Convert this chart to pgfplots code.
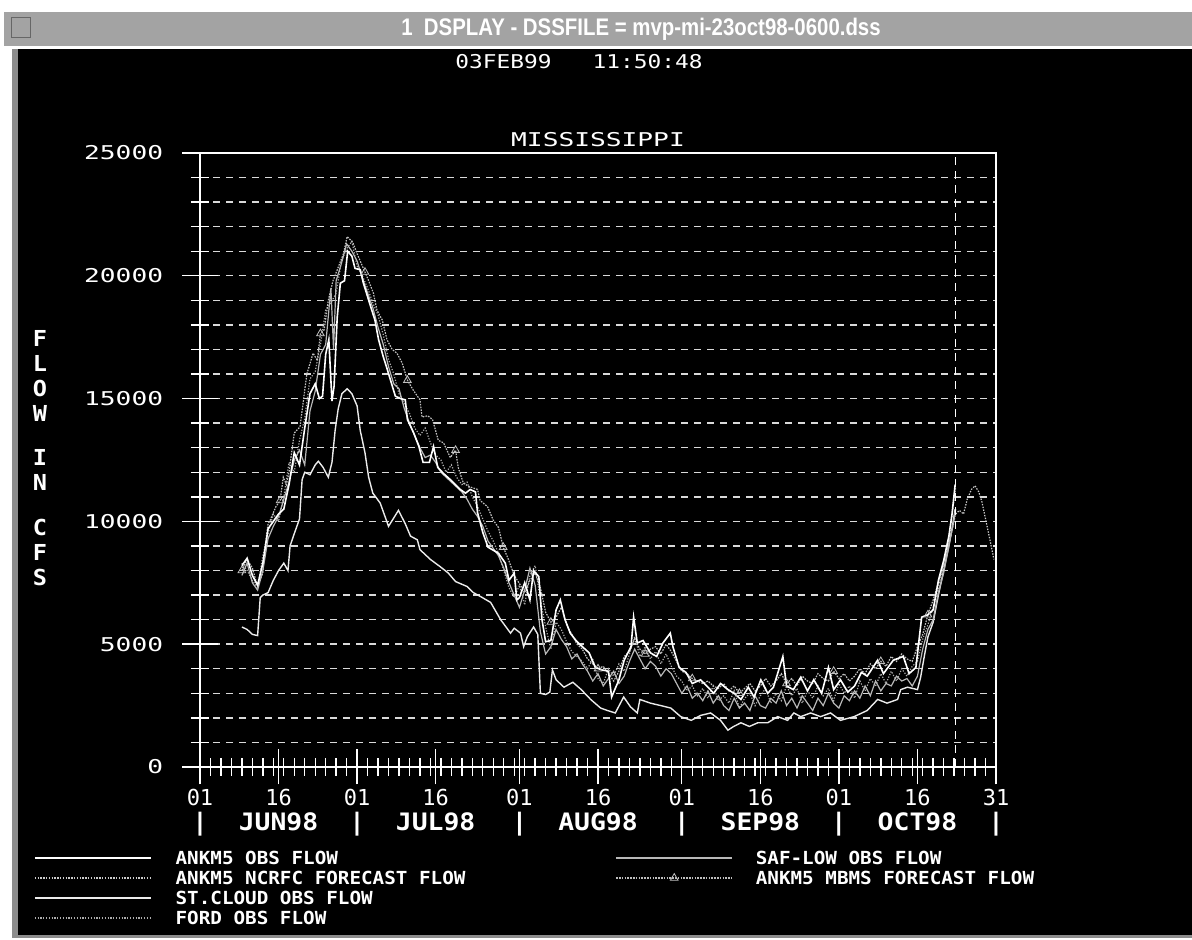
\documentclass[border=0pt]{standalone}
\usepackage{fontspec}
\usepackage{pgfplots}
\pgfplotsset{compat=1.18}
\setmainfont{DejaVu Sans Mono}
\newfontfamily\tickfont{DejaVu Sans Mono}[FakeStretch=1.38]
\newfontfamily\datefont{DejaVu Sans Mono}[FakeStretch=1.2]
\newfontfamily\xfont{DejaVu Sans Mono}
\newfontfamily\monfont{DejaVu Sans Mono}[FakeStretch=1.1]
\newfontfamily\legfont{DejaVu Sans Mono}[FakeStretch=1.07]
\newfontfamily\titlefont{Liberation Sans}[FakeStretch=0.85]
\pgfplotsset{
  ankobs/.style={white, line width=0.8pt},
  saflow/.style={white!72!black, line width=0.6pt},
  ncrfc/.style={white!80!black, line width=0.6pt, dash pattern=on 0.7pt off 0.7pt},
  stcloud/.style={white!92!black, line width=0.7pt},
  ford/.style={white!68!black, line width=0.6pt, dash pattern=on 0.6pt off 0.8pt},
  mbms/.style={white!75!black, line width=0.6pt, dash pattern=on 0.8pt off 0.6pt, mark=triangle, mark size=2.2pt, mark repeat=9, mark options={solid, white!75!black, line width=0.4pt}},
}
\begin{document}
\begin{tikzpicture}
\useasboundingbox (0,0) rectangle (596pt,470pt);
\fill[white] (0,0) rectangle (596pt,470pt);
\fill[black!36] (2pt,447pt) rectangle (596pt,464pt);
\draw[black!60, line width=0.5pt] (5.5pt,451pt) rectangle (15pt,461pt);
\fill[black] (9pt,2.5pt) rectangle (596pt,445.5pt);
\fill[black!45] (6pt,2.5pt) rectangle (9pt,445.5pt);
\fill[black!45] (6pt,1pt) rectangle (596pt,2.5pt);
\node[text=white, font=\titlefont\bfseries\fontsize{12}{14}\selectfont, inner sep=0pt] at (320.5pt,455.5pt) {1\ \ DSPLAY - DSSFILE = mvp-mi-23oct98-0600.dss};
\node[text=white, font=\datefont\fontsize{9.5}{11}\selectfont, inner sep=0pt] at (289.5pt,439pt) {03FEB99\ \ \ 11:50:48};
\node[text=white, font=\legfont\bfseries\fontsize{11}{12.5}\selectfont, align=center, inner sep=0pt] at (20pt,282pt) {F\\L\\O\\W};
\node[text=white, font=\legfont\bfseries\fontsize{11}{12.5}\selectfont, align=center, inner sep=0pt] at (20pt,235pt) {I\\N};
\node[text=white, font=\legfont\bfseries\fontsize{11}{12.5}\selectfont, align=center, inner sep=0pt] at (20pt,193.5pt) {C\\F\\S};
\begin{axis}[
  at={(100pt,86.5pt)}, anchor=south west,
  scale only axis, width=398pt, height=307pt,
  xmin=0, xmax=152, ymin=0, ymax=25000,
  axis background/.style={fill=black},
  axis line style={white, line width=0.7pt},
  tick style={white, line width=0.7pt},
  tick align=center, tick pos=left,
  major tick length=17.5pt, minor tick length=9pt,
  scaled y ticks=false,
  ytick={0,5000,10000,15000,20000,25000},
  yticklabels={0,5000,10000,15000,20000,25000},
  minor y tick num=4,
  ymajorgrids, yminorgrids,
  major grid style={white!85!black, dash pattern=on 3.5pt off 3pt, line width=0.7pt},
  minor grid style={white!85!black, dash pattern=on 3.5pt off 3pt, line width=0.7pt},
  xtick={0,15,30,45,61,76,92,107,122,137,152},
  minor xtick={0,2,...,152},
  xticklabels={{01\\{\monfont\bfseries\fontsize{12}{13}\selectfont |}},{16\\{\monfont\bfseries\fontsize{12}{13}\selectfont JUN98}},{01\\{\monfont\bfseries\fontsize{12}{13}\selectfont |}},{16\\{\monfont\bfseries\fontsize{12}{13}\selectfont JUL98}},{01\\{\monfont\bfseries\fontsize{12}{13}\selectfont |}},{16\\{\monfont\bfseries\fontsize{12}{13}\selectfont AUG98}},{01\\{\monfont\bfseries\fontsize{12}{13}\selectfont |}},{16\\{\monfont\bfseries\fontsize{12}{13}\selectfont SEP98}},{01\\{\monfont\bfseries\fontsize{12}{13}\selectfont |}},{16\\{\monfont\bfseries\fontsize{12}{13}\selectfont OCT98}},{31\\{\monfont\bfseries\fontsize{12}{13}\selectfont |}}},
  yticklabel style={font=\tickfont\fontsize{9.5}{11}\selectfont, text=white, anchor=east, inner sep=0pt, xshift=-9.5pt},
  xticklabel style={font=\xfont\fontsize{11}{12.5}\selectfont, text=white, anchor=north, inner sep=0pt, align=center, yshift=-2pt},
  title={MISSISSIPPI},
  title style={font=\tickfont\fontsize{9.5}{11}\selectfont, text=white, at={(0.5,1)}, anchor=south, inner sep=0pt, yshift=-3pt},
  legend columns=2,
  legend cell align=left,
  legend image code/.code={\draw[#1, mark repeat=2, mark phase=2] plot coordinates {(0pt,0pt) (29pt,0pt) (58pt,0pt)};},
  legend style={draw=none, fill=none, at={(-0.2085,-0.1368)}, anchor=north west,
    font=\legfont\bfseries\fontsize{9}{10}\selectfont, text=white,
    inner sep=0pt, outer sep=0pt, row sep=3pt, column sep=0pt,
    nodes={inner sep=0pt, text height=6.6pt, text depth=0.4pt, anchor=west}},
]
% ST.CLOUD OBS FLOW
\addplot[stcloud, forget plot] coordinates {(8,5700)(9,5600)(10,5400)(11,5350)(11.5,6900)(12,7000)(13,7100)(14,7600)(15,8000)(16,8300)(16.8,8000)(17.2,9000)(18,9500)(19,10100)(19.5,11700)(20,12000)(21,11900)(22,12300)(22.6,12450)(23.5,12200)(24.5,11800)(25.2,12400)(25.8,13700)(26.4,14600)(27.1,15200)(28.1,15400)(29,15200)(30,14700)(30.6,13700)(31.5,12800)(32.2,11800)(33,11150)(34.4,10750)(36,9800)(37.9,10450)(39.2,9900)(40.2,9400)(41.5,9250)(42,8850)(44,8450)(45.9,8150)(47.4,7900)(48.8,7550)(51,7350)(52.2,7100)(53.9,6900)(55.5,6700)(57.4,6000)(59.3,5450)(60,5650)(61.2,5450)(61.8,4900)(62.5,5300)(63.7,5700)(64.5,5400)(65,3000)(66,2950)(66.8,3050)(67.3,3950)(68,3550)(69.5,3250)(71.2,3450)(72.8,3150)(74.6,2750)(76.5,2400)(77.8,2300)(79.3,2200)(80.9,2850)(82.2,2450)(83.5,2200)(84,2750)(86,2600)(88,2500)(89.9,2400)(91.8,2050)(93.8,1900)(95.6,2100)(97.5,2200)(99.4,1900)(100.8,1500)(101.9,1650)(103.3,1800)(104.9,1650)(106.5,1800)(108.4,1800)(110.3,2050)(112.2,1900)(113.4,2200)(114.7,2050)(116.6,2200)(118.5,2050)(120.4,2200)(122.3,1900)(124.9,2050)(127.4,2300)(129.4,2750)(131.2,2600)(133.2,2750)(133.8,3150)(135.1,3250)(137,3150)(137.6,3650)(138.3,4500)(139,5300)(140,5900)(141,7000)(142,8000)(143,9000)(143.6,9700)(144.2,10500)};
% FORD OBS FLOW
\addplot[ford, forget plot] coordinates {(8,8300)(9,8000)(10,7600)(11,7300)(12,8600)(13,9500)(14,10300)(15,10000)(16,11000)(17,12400)(18,12000)(19,13300)(20,14200)(21,15800)(22,16100)(23,17200)(24,18600)(25,18900)(26,19300)(27,20600)(28,21100)(29,21400)(30,20400)(31,20000)(32,19500)(33,18900)(34,18400)(35,17600)(36,16600)(37,16000)(38,15200)(39,14800)(40,14400)(41,13800)(42,13500)(43,13800)(44,13200)(45,12700)(46,12500)(47,12000)(48,12300)(49,11800)(50,11500)(51,11600)(52,11000)(53,10600)(54,10100)(55,9600)(56,9200)(57,8700)(58,8000)(59,7300)(60,6900)(61,7400)(62,6600)(63,7800)(64,8200)(65,6800)(66,5700)(67,4800)(68,5900)(69,5600)(70,5100)(71,4700)(72,4500)(73,4300)(74,4000)(75,4400)(76,3600)(77,3400)(78,4000)(79,3700)(80,4200)(81,3900)(82,4600)(83,5300)(84,4500)(85,4900)(86,4400)(87,4700)(88,4200)(89,4600)(90,4100)(91,3700)(92,3500)(93,3100)(94,3300)(95,2900)(96,3200)(97,2800)(98,3300)(99,2700)(100,2900)(101,2600)(102,3100)(103,2400)(104,2800)(105,3000)(106,2500)(107,2900)(108,3200)(109,2600)(110,3000)(111,2700)(112,3300)(113,2900)(114,3200)(115,2600)(116,3100)(117,2800)(118,3300)(119,2900)(120,3200)(121,2700)(122,3400)(123,3000)(124,3300)(125,2800)(126,3500)(127,3100)(128,3600)(129,3300)(130,3800)(131,3400)(132,3900)(133,3500)(134,4000)(135,3700)(136,4100)(137,4300)(138,5200)(139,5800)(140,6500)(141,7300)(142,8200)(143,9200)(143.7,10400)(144.3,11400)};
% SAF-LOW OBS FLOW
\addplot[saflow, forget plot] coordinates {(8,7800)(9,8300)(10,7500)(11,7200)(12,8000)(13,9300)(14,9800)(15,10200)(16,10900)(17,11600)(18,12500)(19,12900)(20,12300)(21,14500)(22,15300)(23,16800)(24,17200)(25,19500)(25.5,17000)(26,19800)(27,20500)(28,21300)(29,21000)(30,20600)(31,19900)(32,19300)(33,18700)(34,17900)(35,17200)(36,16300)(37,15600)(38,15400)(39,14600)(40,14000)(41,13500)(42,13000)(43,12600)(44,12700)(45,12400)(46,12000)(47,11800)(48,11600)(49,11400)(50,11200)(51,10900)(52,10500)(53,10200)(54,9800)(55,9200)(56,8900)(57,8600)(58,8100)(59,7500)(60,7000)(61,6500)(62,7200)(63,8100)(64,7400)(65,5500)(66,4600)(67,4900)(68,5600)(69,5200)(70,4900)(71,4400)(72,4600)(73,4200)(74,3900)(75,3500)(76,3800)(77,3300)(78,3600)(79,3900)(80,3400)(81,3700)(82,4300)(83,4800)(84,4400)(85,4000)(86,4300)(87,4100)(88,3700)(89,4000)(90,3800)(91,3400)(92,3000)(93,3300)(94,2800)(95,3000)(96,2700)(97,3100)(98,2600)(99,2900)(100,2500)(101,2300)(102,2800)(103,2400)(104,2600)(105,2300)(106,2900)(107,2500)(108,2400)(109,2800)(110,2600)(111,3100)(112,2500)(113,2800)(114,2400)(115,2900)(116,2600)(117,2300)(118,2800)(119,2500)(120,3000)(121,2600)(122,2400)(123,2900)(124,2700)(125,3100)(126,2800)(127,3300)(128,2900)(129,3500)(130,3100)(131,3400)(132,3300)(133,3700)(134,3500)(135,3600)(136,3300)(137,3700)(138,4800)(139,5600)(140,6000)(141,7100)(142,7900)(143,9000)(144,10100)(144.3,10500)};
% ANKM5 MBMS FORECAST FLOW
\addplot[mbms, forget plot] coordinates {(8,8000)(9,8450)(10,8100)(11,7350)(12,7900)(12.4,8950)(13,9900)(13.4,10050)(14.5,10600)(15.3,10850)(15.9,11800)(16.5,11500)(17,12000)(18,13600)(19.1,13850)(20.4,16000)(21.6,16850)(22.4,16550)(23,17650)(23.7,17800)(24.5,19000)(25.4,19800)(26.4,20350)(27.4,20900)(28.1,21600)(29.2,21350)(30,20900)(31.5,20150)(32.2,19800)(33.1,19300)(33.8,18600)(34.8,18200)(35.7,17400)(36.7,17000)(37.6,16850)(38.6,16450)(39.6,15750)(40.7,15350)(42,14950)(42.4,14250)(43.5,14300)(44.4,14150)(45.5,13300)(46.5,13200)(47.8,12600)(48.8,12900)(49.3,12200)(50.3,11550)(51.6,11400)(53,11300)(53.5,10850)(54.9,10600)(56,10050)(57,9750)(57.9,8950)(58.9,8450)(60,7800)(61.2,7400)(62,7100)(63,7600)(64,7900)(65,7300)(66,6300)(67,5900)(68,6100)(69,6500)(70,5800)(71,5400)(72,5000)(73,4800)(74,4400)(75,4200)(76,4000)(77,4100)(78,3800)(79,3500)(80,3900)(81,4500)(82,4700)(83,5200)(84,4800)(85,4600)(86,4800)(87,4900)(88,4600)(89,5000)(90,4700)(91,4300)(92,3900)(93,3800)(94,3600)(95,3500)(96,3400)(97,3500)(98,3300)(99,3200)(100,3400)(101,3100)(102,3300)(103,3000)(104,3200)(105,3400)(106,3100)(107,3300)(108,3600)(109,3300)(110,3500)(111,3800)(112,3400)(113,3600)(114,3300)(115,3700)(116,3500)(117,3400)(118,3800)(119,3600)(120,3500)(121,3900)(122,3600)(123,3800)(124,3500)(125,3700)(126,4000)(127,3800)(128,4200)(129,4000)(130,4300)(131,4100)(132,4500)(133,4300)(134,4600)(135,4400)(136,4300)(137,4900)(138,5400)(139,6200)(140,6800)(141,7500)(142,8300)(143,9100)(144,10000)(144.3,10400)};
% ANKM5 OBS FLOW
\addplot[ankobs, forget plot] coordinates {(8,8200)(9,8500)(10,7800)(11,7400)(12,8300)(13,9700)(14,10000)(15,10300)(16,10500)(17,11500)(18,12800)(19,12300)(20,13800)(21,15200)(22,15600)(22.8,15000)(23.4,15100)(24,16800)(24.6,17400)(25.2,14900)(25.6,15500)(26.2,18300)(26.8,19700)(27.6,19800)(28.2,21000)(29,20800)(29.6,20300)(30.6,20250)(31.2,19700)(32,19150)(32.8,18600)(33.4,18200)(34.1,17400)(35,16700)(35.6,16300)(37.3,15100)(38.3,15000)(39.2,14950)(39.6,14150)(40.8,13600)(41.8,13050)(42.6,12400)(43.8,12400)(44.6,13050)(45.4,12200)(46.5,11950)(47.8,11700)(49.7,11300)(50.7,11150)(51.6,11300)(52.6,11200)(53,10350)(54,9550)(55,8950)(57,8700)(58.3,8300)(59,7600)(60,7900)(60.5,6800)(61,6900)(62,7500)(63,6800)(63.7,8000)(64.7,7750)(65.3,6000)(66,5100)(67,5150)(68,6400)(68.8,6800)(69.7,6000)(70.7,5450)(71.8,5150)(73,4900)(74.3,4650)(75.5,4050)(76.8,3950)(78,3900)(78.6,2850)(80,3550)(81,4350)(82.3,4900)(82.8,6100)(83.5,5050)(84.6,5150)(86,4650)(87.2,4500)(88.4,5050)(89.8,5450)(90.3,4900)(91.5,4050)(92.8,3850)(94,3400)(95.6,3550)(97,3250)(98.1,3000)(99.4,3400)(100.8,3150)(102,3000)(103.3,2750)(104.7,3250)(105.8,2850)(107.1,3550)(108.4,3000)(109.5,3250)(111.3,4500)(112,3300)(113.3,3150)(114.7,3650)(116,3100)(117.2,3550)(118.7,3000)(120,4050)(121,3150)(122.3,3550)(123.7,3050)(125,3300)(126.3,3850)(127.4,3700)(129.4,4350)(130.5,3800)(132.4,4350)(134.3,4500)(135.4,3800)(136.7,4050)(137.8,6100)(139,6200)(140,6400)(141,7600)(142,8400)(143,9400)(143.6,10300)(144.2,11500)};
% ANKM5 NCRFC FORECAST FLOW
\addplot[ncrfc, forget plot] coordinates {(144.3,10300)(145,10450)(145.8,10300)(146.5,10900)(147.3,11300)(148,11450)(148.7,11200)(149.3,10800)(150,10100)(150.6,9500)(151.6,8450)};
% forecast time marker
\addplot[white, line width=0.7pt, dash pattern=on 4pt off 3pt, forget plot] coordinates {(144.25,0) (144.25,25000)};
% legend
\addlegendimage{ankobs}
\addlegendentry{\hspace*{12pt}\makebox[220pt][l]{ANKM5 OBS FLOW}}
\addlegendimage{saflow}
\addlegendentry{\hspace*{11.5pt}SAF-LOW OBS FLOW}
\addlegendimage{ncrfc}
\addlegendentry{\hspace*{12pt}\makebox[220pt][l]{ANKM5 NCRFC FORECAST FLOW}}
\addlegendimage{mbms}
\addlegendentry{\hspace*{11.5pt}ANKM5 MBMS FORECAST FLOW}
\addlegendimage{stcloud}
\addlegendentry{\hspace*{12pt}\makebox[220pt][l]{ST.CLOUD OBS FLOW}}
\addlegendimage{empty legend}
\addlegendentry{}
\addlegendimage{ford}
\addlegendentry{\hspace*{12pt}\makebox[220pt][l]{FORD OBS FLOW}}
\addlegendimage{empty legend}
\addlegendentry{}
\end{axis}
\end{tikzpicture}
\end{document}
